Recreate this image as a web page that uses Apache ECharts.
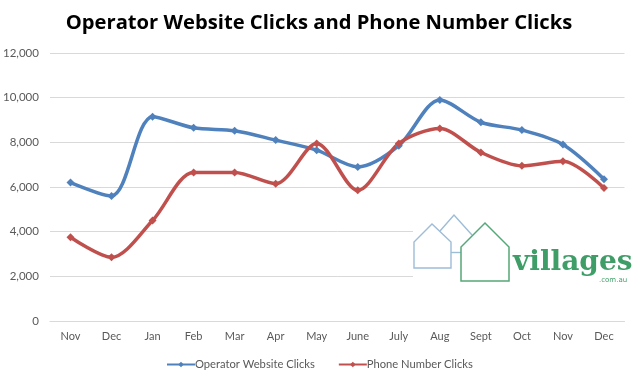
<!DOCTYPE html>
<html><head><meta charset="utf-8">
<style>html,body{margin:0;padding:0;background:#fff}#c{width:643px;height:387px}</style>
<script src="https://cdn.jsdelivr.net/npm/echarts@6/dist/echarts.min.js"></script>
</head><body><div id="c"></div>
<script>
const categories = ['Nov','Dec','Jan','Feb','Mar','Apr','May','June','July','Aug','Sept','Oct','Nov','Dec'];
const websiteClicks = [6200,5600,9150,8650,8520,8100,7650,6900,7850,9900,8900,8550,7900,6350];
const phoneClicks = [3750,2850,4500,6650,6650,6150,7950,5850,7950,8620,7550,6950,7150,5950];
const yTicks = {min:0,max:12000,interval:2000};
const chart = echarts.init(document.getElementById('c'),null,{renderer:'canvas'});
const lineWidth = 3.5;
const mkSeries = (name,data,color)=>({name,type:'line',data,smooth:0.3,symbol:'diamond',symbolSize:8,
  lineStyle:{color,width:lineWidth},itemStyle:{color},z:5,animation:false});
const blue='#4f81bd', red='#c0504d', lightBlue='#9dbcd8', green='#55a878', logoGreen='#3f9e68';
chart.setOption({
  animation:false,
  backgroundColor:'#fff',
  title:{text:'Operator Website Clicks and Phone Number Clicks',left:314,top:8,textAlign:'center',
    textStyle:{fontFamily:'Open Sans',fontWeight:'bold',fontSize:20.2,color:'#000'}},
  grid:{left:49.5,right:18.5,top:53,bottom:66},
  xAxis:{type:'category',data:categories,boundaryGap:true,
    axisLine:{lineStyle:{color:'#d9d9d9',width:1}},axisTick:{show:false},
    axisLabel:{interval:0,color:'#595959',fontFamily:'Lato',fontSize:11,margin:10}},
  yAxis:{type:'value',...yTicks,
    axisLine:{show:false},axisTick:{show:false},
    splitLine:{lineStyle:{color:'#d9d9d9',width:1}},
    axisLabel:{color:'#595959',fontFamily:'Lato',fontSize:11.5,margin:11,
      formatter:v=>v.toLocaleString('en-US')}},
  legend:{bottom:12,left:161,itemWidth:28,itemHeight:7,itemGap:23,
    textStyle:{color:'#595959',fontFamily:'Lato',fontSize:11.2,padding:[0,0,0,-5]}},
  series:[mkSeries('Operator Website Clicks',websiteClicks,blue),mkSeries('Phone Number Clicks',phoneClicks,red)],
  graphic:[
    {type:'rect',z:10,shape:{x:413,y:206,width:230,height:84},style:{fill:'#fff'}},
    {type:'polyline',z:11,shape:{points:[[440,231],[454,215],[472,235]]},style:{stroke:lightBlue,lineWidth:1.4,fill:null}},
    {type:'polygon',z:11,shape:{points:[[414,268],[414,242],[432,224],[451,242],[451,268]]},style:{stroke:lightBlue,lineWidth:1.4,fill:null}},
    {type:'line',z:11,shape:{x1:451,y1:252.5,x2:461,y2:252.5},style:{stroke:lightBlue,lineWidth:1.4}},
    {type:'polygon',z:12,shape:{points:[[461,281],[461,247],[485,223],[509,247],[509,281]]},style:{stroke:green,lineWidth:1.5,fill:'#fff'}},
    {type:'text',z:12,style:{x:513,y:277,text:'villages',fill:logoGreen,font:'bold 28px "DejaVu Serif"',verticalAlign:'bottom'}},
    {type:'text',z:12,style:{x:599,y:284,text:'.com.au',fill:logoGreen,font:'7px "DejaVu Sans"',verticalAlign:'bottom'}}
  ]
});
</script></body></html>
